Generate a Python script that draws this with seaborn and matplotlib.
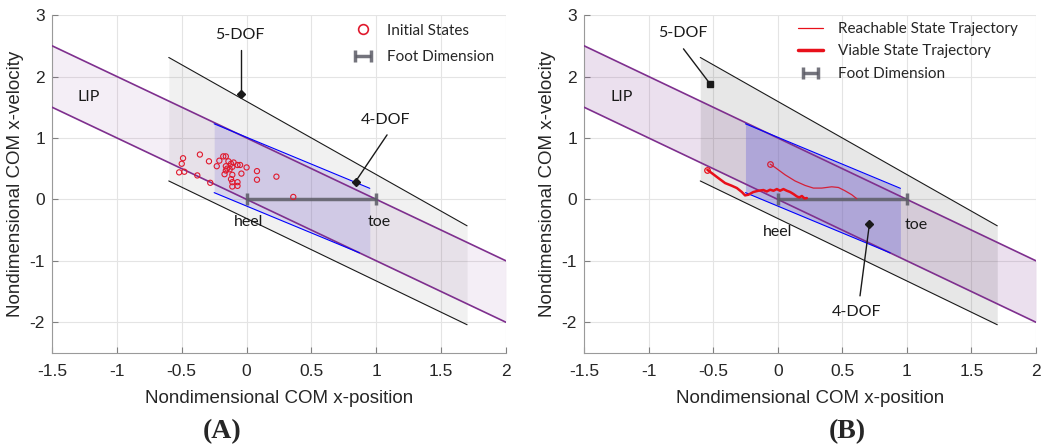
import matplotlib
matplotlib.use("Agg")
import matplotlib.pyplot as plt
from matplotlib.lines import Line2D
import pandas as pd
import seaborn as sns

# axes ticks
x_ticks = [-1.5, -1, -0.5, 0, 0.5, 1, 1.5, 2]
x_tick_labels = ["-1.5", "-1", "-0.5", "0", "0.5", "1", "1.5", "2"]
y_ticks = [-2, -1, 0, 1, 2, 3]
y_tick_labels = ["-2", "-1", "0", "1", "2", "3"]

# LIP region
lip_x = [-1.5, 2.0]
lip_upper = [2.5, -1.0]
lip_lower = [1.5, -2.0]

# 5-DOF region
dof5_x = [-0.6, 1.7]
dof5_upper = [2.31, -0.43]
dof5_lower = [0.30, -2.04]

# 4-DOF region
dof4_x = [-0.25, 0.95]
dof4_upper = [1.23, 0.18]
dof4_lower = [0.11, -0.93]
dof4_edge_x = [-0.25, 0.87]
dof4_edge_lower = [0.11, -0.87]

# foot
foot_x = [0.0, 1.0]
foot_y = [0.0, 0.0]

# (A) initial states
init_x = [-0.49, -0.50, -0.52, -0.48, -0.36, -0.38, -0.29, -0.28, -0.18, -0.16,
          -0.21, -0.23, -0.16, -0.14, -0.12, -0.11, -0.10, -0.13, -0.16, -0.17,
          -0.11, -0.12, -0.11, -0.07, -0.11, -0.07, -0.07, -0.05, -0.04, 0.00,
          0.08, 0.08, 0.23, 0.36, -0.15]
init_y = [0.67, 0.58, 0.44, 0.45, 0.73, 0.39, 0.62, 0.27, 0.70, 0.70,
          0.63, 0.54, 0.54, 0.62, 0.58, 0.53, 0.60, 0.49, 0.47, 0.41,
          0.40, 0.33, 0.28, 0.28, 0.21, 0.22, 0.56, 0.56, 0.42, 0.52,
          0.46, 0.32, 0.37, 0.04, 0.50]

# (B) trajectories
reach_x = [-0.059, -0.020, 0.057, 0.134, 0.212, 0.276, 0.341, 0.418, 0.470, 0.520, 0.573, 0.612]
reach_y = [0.574, 0.519, 0.400, 0.300, 0.227, 0.184, 0.184, 0.205, 0.194, 0.141, 0.076, 0.011]
viable_x = [-0.545, -0.511, -0.460, -0.408, -0.356, -0.317, -0.278, -0.253, -0.227, -0.189,
            -0.150, -0.111, -0.085, -0.059, -0.033, -0.007, 0.018, 0.044, 0.070, 0.096,
            0.122, 0.148, 0.166, 0.187, 0.207, 0.225]
viable_y = [0.481, 0.428, 0.347, 0.266, 0.222, 0.185, 0.120, 0.065, 0.076, 0.120,
            0.141, 0.152, 0.129, 0.157, 0.141, 0.168, 0.141, 0.168, 0.141, 0.120,
            0.087, 0.048, 0.032, 0.055, 0.016, 0.022]

sns.set_theme(style="ticks")
plt.rcParams['font.family'] = ['Liberation Sans', 'DejaVu Sans']

PURPLE = '#7e2f8e'
BLUEFILL = '#7b74d8'
FOOT = '#5c5c66'
RED = '#e0192d'
LBL_FONT = ['Lato', 'DejaVu Sans']


def draw_base(ax, lip_a, grey_a, blue_a):
    ax.fill_between(lip_x, lip_lower, lip_upper, color=PURPLE, alpha=lip_a, lw=0, zorder=1)
    ax.fill_between(dof5_x, dof5_lower, dof5_upper, color='k', alpha=grey_a, lw=0, zorder=1.1)
    ax.fill_between(dof4_x, dof4_lower, dof4_upper, color=BLUEFILL, alpha=blue_a, lw=0, zorder=1.2)
    sns.lineplot(x=lip_x, y=lip_upper, color=PURPLE, lw=1.2, ax=ax, zorder=3)
    sns.lineplot(x=lip_x, y=lip_lower, color=PURPLE, lw=1.2, ax=ax, zorder=3)
    sns.lineplot(x=dof5_x, y=dof5_upper, color='k', lw=0.8, ax=ax, zorder=3)
    sns.lineplot(x=dof5_x, y=dof5_lower, color='k', lw=0.8, ax=ax, zorder=3)
    sns.lineplot(x=dof4_x, y=dof4_upper, color='#0000ff', lw=0.8, ax=ax, zorder=3)
    sns.lineplot(x=dof4_edge_x, y=dof4_edge_lower, color='#0000ff', lw=0.8, ax=ax, zorder=3)
    eb = ax.errorbar([sum(foot_x) / 2], [foot_y[0]], xerr=[(foot_x[1] - foot_x[0]) / 2],
                     fmt='none', ecolor=FOOT, elinewidth=2.5, capsize=4.5, capthick=2.5,
                     alpha=0.85, zorder=5)

    ax.set_xlim(-1.5, 2)
    ax.set_ylim(-2.5, 3)
    ax.set_xticks(x_ticks)
    ax.set_xticklabels(x_tick_labels)
    ax.set_yticks(y_ticks)
    ax.set_yticklabels(y_tick_labels)
    ax.grid(True, color='#e4e4e4', lw=0.8, zorder=0)
    ax.set_axisbelow(True)
    ax.tick_params(direction='in', length=4, width=0.8, colors='#808080',
                   labelcolor='#262626', labelsize=12.5)
    ax.tick_params(axis='x', pad=8)
    ax.tick_params(axis='y', pad=5)
    for s in ['top', 'right']:
        ax.spines[s].set_visible(False)
    for s in ['left', 'bottom']:
        ax.spines[s].set_color('#9a9a9a')
        ax.spines[s].set_linewidth(0.8)
    ax.set_xlabel('Nondimensional COM x-position', fontsize=13.5, color='#262626', labelpad=8)
    ax.set_ylabel('Nondimensional COM x-velocity', fontsize=13.5, color='#262626', labelpad=4)
    return eb


def note(ax, text, xy, **kw):
    ax.text(xy[0], xy[1], text, family=LBL_FONT, fontsize=11.5, color='k',
            ha='center', va='center', zorder=6, **kw)


def pointer(ax, start, end, marker):
    ax.plot([start[0], end[0]], [start[1], end[1]], color='k', lw=1.0, zorder=6)
    ax.plot([end[0]], [end[1]], marker=marker, color='k', ms=4, zorder=6)


fig = plt.figure(figsize=(10.45, 4.47), dpi=100)
axA = fig.add_axes([0.0498, 0.2103, 0.4344, 0.756])
axB = fig.add_axes([0.5589, 0.2103, 0.4325, 0.756])

# ---- (A)
ebA = draw_base(axA, 0.08, 0.06, 0.21)
sns.scatterplot(x=init_x, y=init_y, ax=axA, marker='o', s=14, facecolor='none',
                edgecolor=RED, linewidth=0.8, zorder=7)
note(axA, '5-DOF', (-0.05, 2.67))
pointer(axA, (-0.045, 2.43), (-0.045, 1.71), 'D')
note(axA, '4-DOF', (1.075, 1.30))
pointer(axA, (1.083, 1.05), (0.84, 0.29), 'D')
note(axA, 'LIP', (-1.22, 1.67))
note(axA, 'heel', (0.016, -0.37))
note(axA, 'toe', (1.02, -0.37))
hA = [Line2D([], [], ls='none', marker='o', mfc='none', mec=RED, ms=7, mew=1.2), ebA]
axA.legend(hA, ['Initial States', 'Foot Dimension'], loc='upper right',
           bbox_to_anchor=(1.005, 1.015), frameon=False, prop={'family': LBL_FONT, 'size': 11},
           handlelength=2.0, labelspacing=0.8, handletextpad=0.6)

# ---- (B)
ebB = draw_base(axB, 0.15, 0.10, 0.42)
sns.lineplot(x=reach_x, y=reach_y, sort=False, color='#d42038', lw=0.9, ax=axB, zorder=7)
sns.lineplot(x=viable_x, y=viable_y, sort=False, color='#e8101a', lw=1.8, ax=axB, zorder=7)
axB.plot(reach_x[:1], reach_y[:1], marker='o', mfc='none', mec='#d42038', ms=4, mew=0.9, zorder=8)
axB.plot(viable_x[:1], viable_y[:1], marker='o', mfc='none', mec='#e8101a', ms=4, mew=0.9, zorder=8)
note(axB, '5-DOF', (-0.736, 2.70))
pointer(axB, (-0.73, 2.45), (-0.524, 1.88), 's')
note(axB, '4-DOF', (0.61, -1.83))
pointer(axB, (0.637, -1.57), (0.71, -0.40), 'D')
note(axB, 'LIP', (-1.21, 1.67))
note(axB, 'heel', (0.0, -0.53))
note(axB, 'toe', (1.076, -0.41))
hB = [Line2D([], [], color='#e8101a', lw=0.9), Line2D([], [], color='#e8101a', lw=2.5), ebB]
axB.legend(hB, ['Reachable State Trajectory', 'Viable State Trajectory', 'Foot Dimension'],
           loc='upper right', bbox_to_anchor=(0.99, 1.02), frameon=False,
           prop={'family': LBL_FONT, 'size': 11}, handlelength=1.6, labelspacing=0.55,
           handletextpad=1.0)

fig.text(0.2125, 0.035, '(A)', family=['Liberation Serif'], fontweight='bold', fontsize=20,
         ha='center', va='center')
fig.text(0.8105, 0.035, '(B)', family=['Liberation Serif'], fontweight='bold', fontsize=20,
         ha='center', va='center')

fig.savefig('out.png', dpi=100)
